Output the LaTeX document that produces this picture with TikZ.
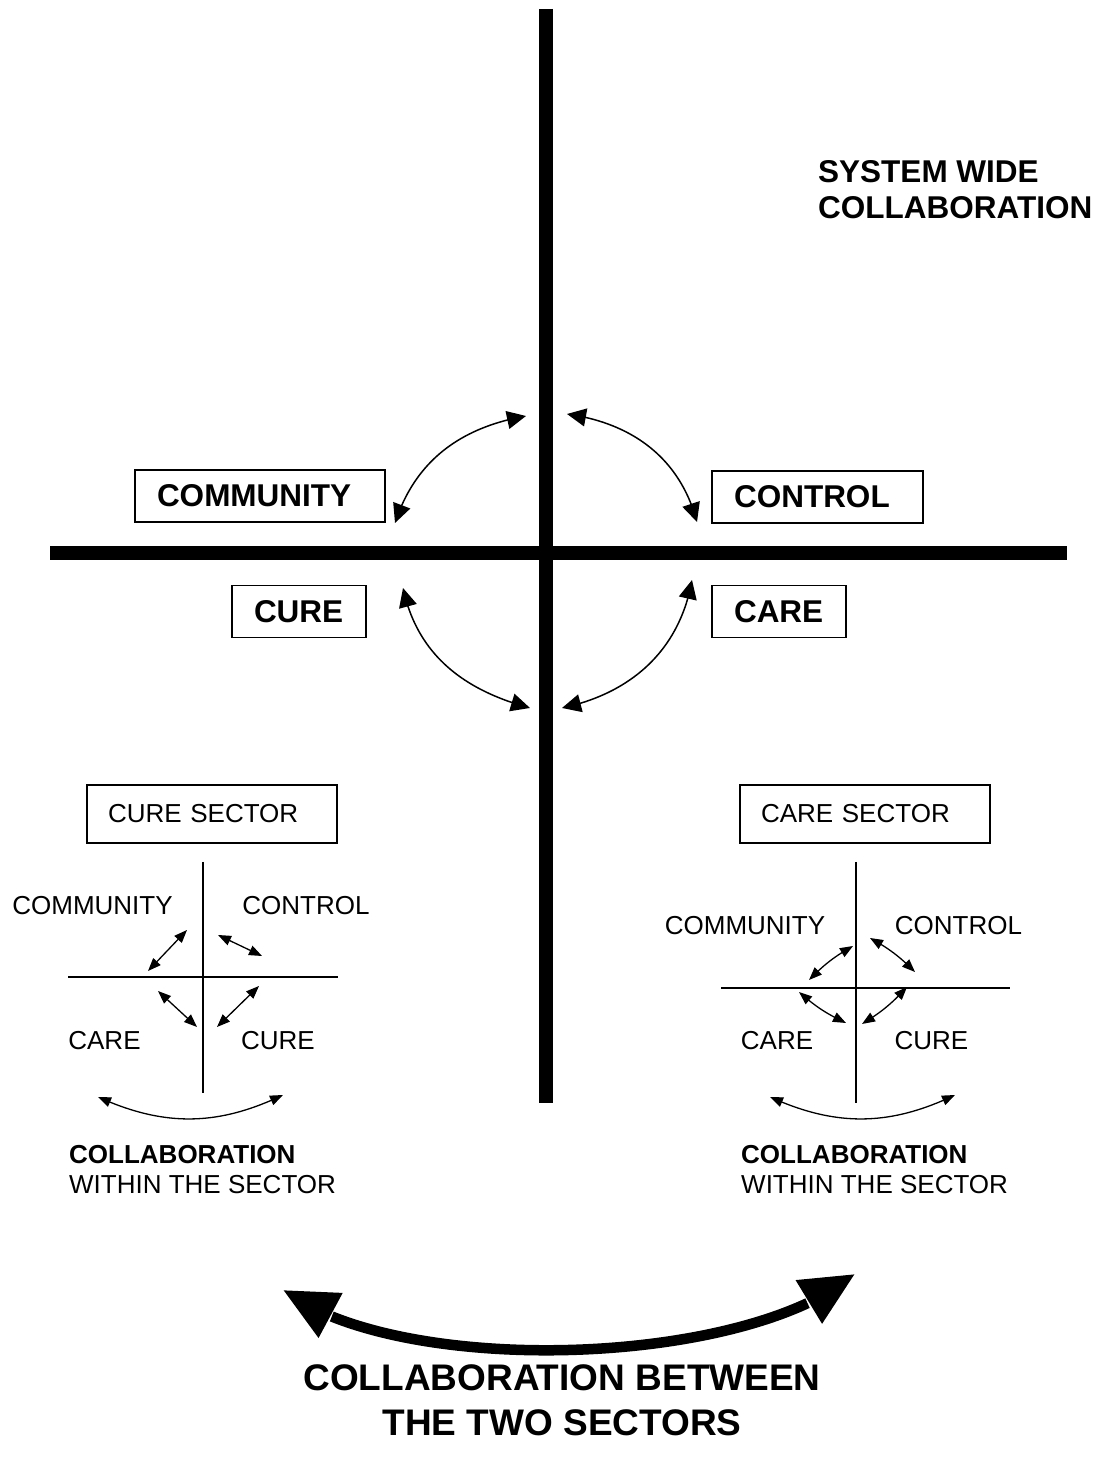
\documentclass[tikz,border=0pt]{standalone}
\usepackage{fontspec}
\setmainfont{Liberation Sans}
\usetikzlibrary{arrows.meta,bending}
\newcommand\fbig{\fontsize{31.5}{36}\selectfont\bfseries}
\newcommand\fsmall{\fontsize{26}{30}\selectfont}
\newcommand\fhuge{\fontsize{37}{45}\selectfont\bfseries}
\tikzset{
  bigaxis/.style={draw=black, line width=14pt},
  smallaxis/.style={draw=black, line width=1.3pt},
  bigbox/.style={draw=black, line width=1.6pt, font=\fbig, align=left, inner xsep=22pt, minimum height=52pt},
  secbox/.style={draw=black, line width=1.6pt, font=\fsmall, align=left, inner xsep=21pt, text width=208pt, minimum height=58pt},
  lab/.style={font=\fsmall, inner sep=0pt},
  arrmid/.style={{Triangle[length=19pt,width=18pt]}-{Triangle[length=19pt,width=18pt]}, line width=1.5pt},
  arrsmall/.style={{Triangle[length=13pt,width=10pt]}-{Triangle[length=13pt,width=10pt]}, line width=1.3pt},
  arrbig/.style={{Triangle[length=54pt,width=48pt]}-{Triangle[length=54pt,width=48pt]}, line width=10.5pt},
}

\begin{document}
\begin{tikzpicture}[x=1pt,y=1pt]
  \useasboundingbox (0,0) rectangle (1102,1466);

  \draw[bigaxis] (546,1457) -- (546,363);
  \draw[bigaxis] (50,913) -- (1067,913);

  \node[font=\fbig, align=left, anchor=west, inner sep=0pt] (sys) at (818,1276) {SYSTEM WIDE\\COLLABORATION};

  \node[bigbox, text width=206pt] (comm) at (260,970) {COMMUNITY};
  \node[bigbox, text width=167pt] (ctrl) at (817.5,969) {CONTROL};
  \node[bigbox, text width=90pt] (cure) at (299,854.5) {CURE};
  \node[bigbox, text width=90pt] (care) at (779,854.5) {CARE};

  \coordinate (A) at (526,1050);
  \coordinate (B) at (395,943);
  \coordinate (C) at (567,1052);
  \coordinate (D) at (697,944);
  \coordinate (E) at (403,878);
  \coordinate (F) at (530,758);
  \coordinate (G) at (692,886);
  \coordinate (H) at (562,758);

  \draw[arrmid] (B) to[out=72,in=190] (A);
  \draw[arrmid] (C) to[out=-8,in=105] (D);
  \draw[arrmid] (E) to[out=-78,in=165] (F);
  \draw[arrmid] (G) to[out=-100,in=12] (H);

  % cure sector
  \node[secbox] (cureSec) at (212,652) {CURE SECTOR};
  \draw[smallaxis] (203,604) -- (203,373);
  \draw[smallaxis] (68,489) -- (338,489);
  \node[lab] (lComm) at (92.5,560) {COMMUNITY};
  \node[lab] (lCtrl) at (306,560) {CONTROL};
  \node[lab] (lCare) at (104.5,425) {CARE};
  \node[lab] (lCure) at (278,425) {CURE};
  \draw[arrsmall] (148,495) -- (187,536);
  \draw[arrsmall] (218,531) -- (262,510);
  \draw[arrsmall] (259,480) -- (217,439);
  \draw[arrsmall] (197,439) -- (158,475);
  \draw[arrsmall] (98,369) to[bend right=25] (283,371);
  \node[font=\fsmall, align=left, anchor=west, inner sep=0pt] (lColl) at (69,296) {\textbf{COLLABORATION}\\WITHIN THE SECTOR};

  % care sector
  \node[secbox] (careSec) at (865,652) {CARE SECTOR};
  \draw[smallaxis] (856,604) -- (856,363);
  \draw[smallaxis] (721,478) -- (1010,478);
  \node[lab] (rComm) at (745,540) {COMMUNITY};
  \node[lab] (rCtrl) at (958.5,540) {CONTROL};
  \node[lab] (rCare) at (777,425) {CARE};
  \node[lab] (rCure) at (931.5,425) {CURE};
  \draw[arrsmall] (809,486) to[bend left=8] (853,520);
  \draw[arrsmall] (870,528) to[bend left=8] (915,494);
  \draw[arrsmall] (907,479) to[bend left=8] (862,442);
  \draw[arrsmall] (846,443) to[bend left=8] (799,474);
  \draw[arrsmall] (770,369) to[bend right=25] (955,371);
  \node[font=\fsmall, align=left, anchor=west, inner sep=0pt] (rColl) at (741,296) {\textbf{COLLABORATION}\\WITHIN THE SECTOR};

  \coordinate (L) at (283,176);
  \coordinate (R) at (855,192);
  \draw[arrbig] (L) to[out=-37,in=220,looseness=0.65] (R);
  \node[font=\fhuge, align=center, inner sep=0pt] (between) at (562,66) {COLLABORATION BETWEEN\\THE TWO SECTORS};
\end{tikzpicture}
\end{document}
